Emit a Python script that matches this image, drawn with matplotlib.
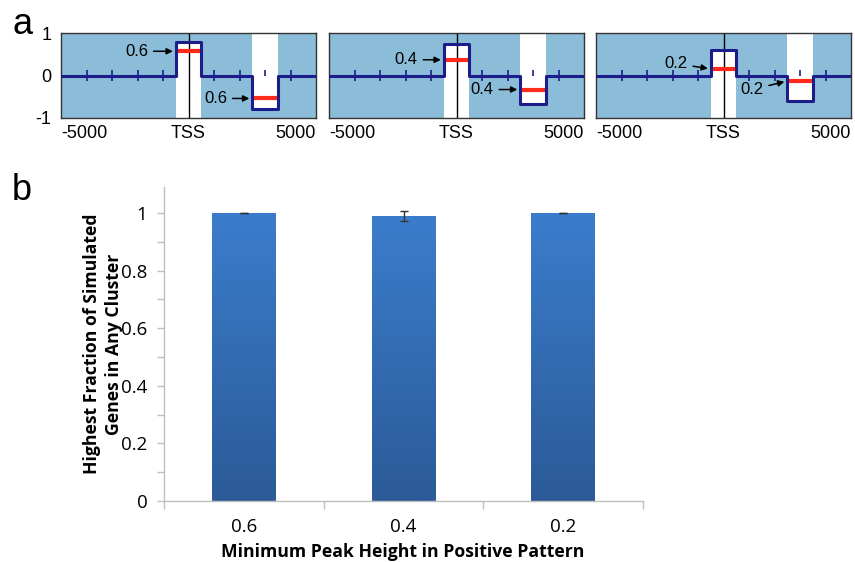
import numpy as np
import matplotlib
matplotlib.use("Agg")
import matplotlib.pyplot as plt
from matplotlib.colors import LinearSegmentedColormap

# panel a: simulated patterns (one small plot per minimum peak height)
pattern_labels = ["0.6", "0.4", "0.2"]
pos_box = [-500, 500]          # positive peak around the TSS
neg_box = [2500, 3500]         # negative dip downstream
pos_height = [0.80, 0.75, 0.60]
neg_depth = [-0.78, -0.68, -0.59]
red_pos = [0.57, 0.37, 0.16]
red_neg = [-0.54, -0.33, -0.14]
text_y_pos = [0.57, 0.37, 0.28]
text_y_neg = [-0.54, -0.33, -0.33]
text_x_pos = [-1590, -1520, -1410]
text_x_neg = [1510, 1460, 1570]
zero_ticks = [-4000, -3000, -2000, -1000, 1000, 2000, 4000]
up_ticks = [3000]

# panel b: bar chart
categories = ["0.6", "0.4", "0.2"]
fraction = [1.0, 0.99, 1.0]
fraction_err = [0.001, 0.017, 0.001]

W, H = 855, 562
fig = plt.figure(figsize=(W / 100, H / 100), dpi=100)

bg_blue = "#8bbdd9"
navy = "#1c1c8a"
red = "#ff2a1a"
sans_a = ["Liberation Sans", "DejaVu Sans"]

lefts = [61, 329, 596]
for i in range(3):
    ax = fig.add_axes([lefts[i] / W, 1 - 118 / H, 255 / W, 85 / H])
    ax.set_facecolor(bg_blue)
    ax.set_xlim(-5000, 5000)
    ax.set_ylim(-1, 1)
    # white bands behind the peaks
    ax.fill_between(pos_box, -1, pos_height[i], color="white", lw=0, zorder=1)
    ax.fill_between(neg_box, neg_depth[i], 1, color="white", lw=0, zorder=1)
    # TSS line
    ax.axvline(0, color="black", lw=1.0, zorder=2)
    # ticks on the zero line
    ax.vlines(zero_ticks, -0.12, 0.12, color=navy, lw=1.2, zorder=3)
    ax.vlines(up_ticks, 0, 0.12, color=navy, lw=1.2, zorder=3)
    # step profile
    xs = [-5000, pos_box[0], pos_box[0], pos_box[1], pos_box[1],
          neg_box[0], neg_box[0], neg_box[1], neg_box[1], 5000]
    ys = [0, 0, pos_height[i], pos_height[i], 0,
          0, neg_depth[i], neg_depth[i], 0, 0]
    ax.plot(xs, ys, color=navy, lw=2.2, zorder=4, solid_joinstyle="round")
    # minimum height markers
    ax.plot(pos_box, [red_pos[i]] * 2, color=red, lw=3, zorder=3,
            solid_capstyle="butt")
    ax.plot(neg_box, [red_neg[i]] * 2, color=red, lw=3, zorder=3,
            solid_capstyle="butt")
    arrow = dict(arrowstyle="-|>", color="black", lw=1.1, mutation_scale=9,
                 shrinkA=2, shrinkB=1)
    ax.annotate(pattern_labels[i], xy=(pos_box[0] - 60, red_pos[i]),
                xytext=(text_x_pos[i], text_y_pos[i]), ha="right", va="center",
                fontsize=12, family=sans_a, arrowprops=arrow, zorder=5)
    ax.annotate(pattern_labels[i], xy=(neg_box[0] - 60, red_neg[i]),
                xytext=(text_x_neg[i], text_y_neg[i]), ha="right", va="center",
                fontsize=12, family=sans_a, arrowprops=arrow, zorder=5)
    ax.set_xticks([-5000, 0, 5000])
    ax.set_xticklabels(["-5000", "TSS", "5000"], family=sans_a, fontsize=13)
    labs = ax.get_xticklabels()
    labs[0].set_ha("left")
    labs[2].set_ha("right")
    ax.tick_params(axis="x", length=0, pad=5)
    if i == 0:
        ax.set_yticks([-1, 0, 1])
        ax.set_yticklabels(["-1", "0", "1"], family=sans_a, fontsize=13)
        ax.tick_params(axis="y", length=0, pad=7)
    else:
        ax.set_yticks([])
    for s in ax.spines.values():
        s.set_color("#333333")
        s.set_linewidth(1.0)

fig.text(12 / W, 1 - 24 / H, "a", fontsize=26, family=sans_a, va="center")
fig.text(12 / W, 1 - 190 / H, "b", fontsize=26, family=sans_a, va="center")

# panel b
sans_b = ["Open Sans", "DejaVu Sans"]
axb = fig.add_axes([164 / W, 1 - 501 / H, 479 / W, 314 / H])
x = np.arange(len(categories))
bars = axb.bar(x, fraction, width=0.40, color="none", edgecolor="none", zorder=2)
cmap = LinearSegmentedColormap.from_list("bargrad", ["#2c5a98", "#3b7dcc"])
grad = np.linspace(0, 1, 256).reshape(-1, 1)
for b in bars:
    x0 = b.get_x()
    im = axb.imshow(grad, extent=[x0, x0 + b.get_width(), 0, b.get_height()],
                    origin="lower", aspect="auto", cmap=cmap, zorder=2)
    im.set_clip_path(b)
axb.errorbar(x, fraction, yerr=fraction_err, fmt="none", ecolor="#333333",
             elinewidth=1, capsize=3, capthick=1, zorder=3)
axb.set_xlim(-0.5, 2.5)
axb.set_ylim(0, 1.09)
axb.set_xticks(x)
axb.set_xticklabels(categories, family=sans_b, fontsize=13.5)
axb.set_xticks([-0.5, 0.5, 1.5, 2.5], minor=True)
axb.tick_params(axis="x", which="major", length=0, pad=12)
axb.tick_params(axis="x", which="minor", length=6, color="#bfbfbf", width=1)
axb.set_yticks([0, 0.2, 0.4, 0.6, 0.8, 1.0])
axb.set_yticklabels(["0", "0.2", "0.4", "0.6", "0.8", "1"], family=sans_b,
                    fontsize=13.5)
axb.set_yticks([0.1, 0.3, 0.5, 0.7, 0.9], minor=True)
axb.tick_params(axis="y", which="both", length=5, color="#bfbfbf", width=1,
                pad=7)
for s in ["top", "right"]:
    axb.spines[s].set_visible(False)
for s in ["left", "bottom"]:
    axb.spines[s].set_color("#bfbfbf")
    axb.spines[s].set_linewidth(1)
axb.set_ylabel("Highest Fraction of Simulated\nGenes in Any Cluster",
               family=sans_b, fontsize=12.7, fontweight="bold", linespacing=1.3)
axb.yaxis.set_label_coords(-0.086, 0.5)
axb.set_xlabel("Minimum Peak Height in Positive Pattern", family=sans_b,
               fontsize=12.7, fontweight="bold")
axb.xaxis.set_label_coords(0.499, -0.135)

fig.savefig("out.png", dpi=100)
